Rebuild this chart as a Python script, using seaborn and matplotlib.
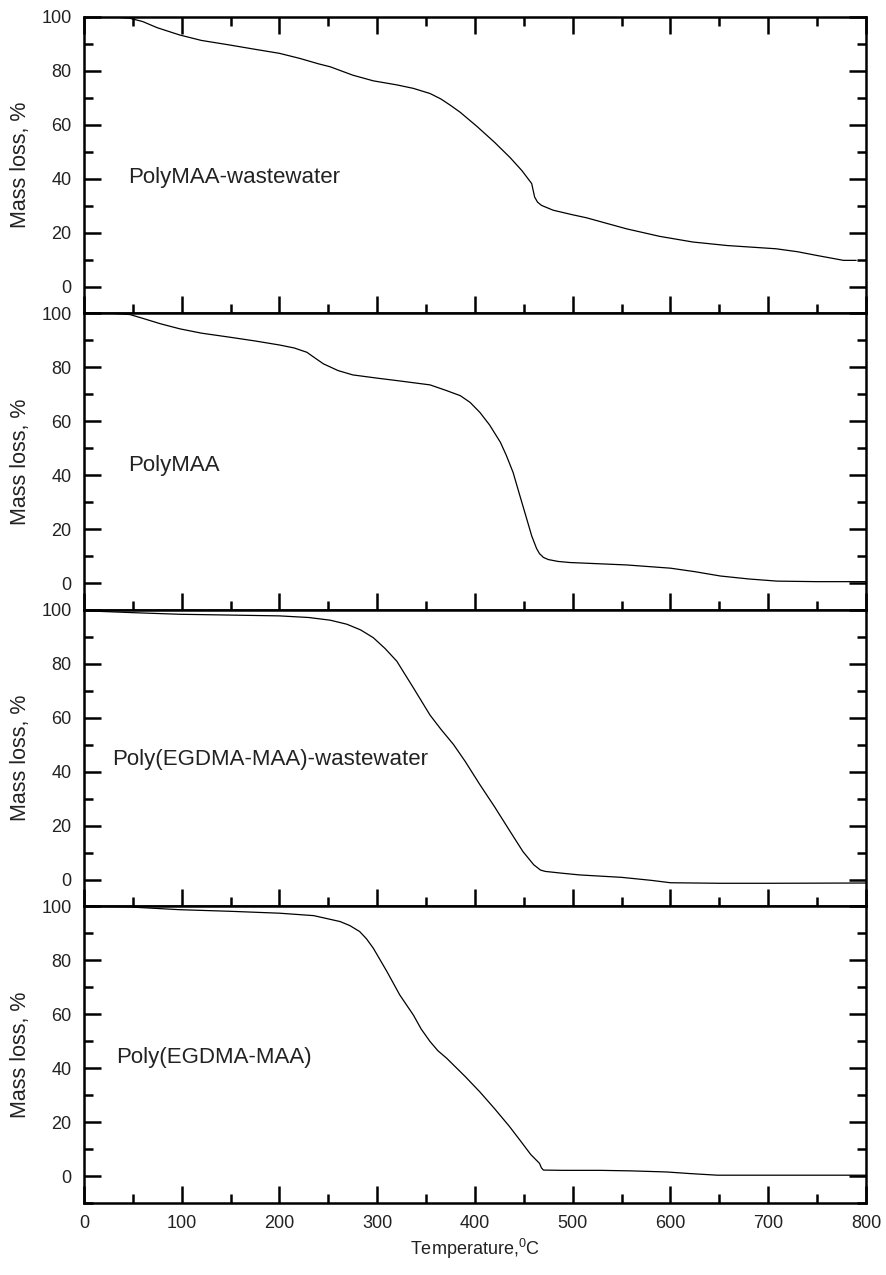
import matplotlib
matplotlib.use("Agg")
import matplotlib.pyplot as plt
from matplotlib.ticker import MultipleLocator
import pandas as pd
import seaborn as sns

# TGA curves: temperature (deg C) and remaining mass (%)
temp_maa_ww = [0, 30, 47, 60, 75, 98, 120, 149, 175, 200, 221, 240, 252, 275, 296,
               320, 337, 354, 365, 375, 385, 402, 420, 436, 448, 453, 458, 461, 464,
               468, 480, 500, 514, 535, 555, 589, 623, 658, 708, 730, 750, 777, 790]
mass_maa_ww = [100, 100, 99.5, 98.3, 96.0, 93.3, 91.3, 89.6, 88.0, 86.5, 84.6, 82.6,
               81.5, 78.4, 76.3, 74.8, 73.5, 71.6, 69.6, 67.2, 64.6, 59.4, 53.5, 47.8,
               43.0, 40.6, 38.2, 33.2, 31.3, 30.1, 28.3, 26.6, 25.5, 23.4, 21.4, 18.6,
               16.5, 15.2, 14.0, 12.9, 11.5, 9.7, 9.7]

temp_maa = [0, 30, 47, 60, 78, 98, 120, 149, 175, 200, 215, 228, 237, 245, 260, 275,
            300, 320, 354, 370, 385, 395, 405, 415, 426, 432, 439, 446, 453, 458, 463,
            466, 470, 475, 485, 497, 555, 600, 625, 651, 680, 709, 750, 800]
mass_maa = [100, 100, 99.6, 98.2, 96.2, 94.3, 92.7, 91.2, 89.8, 88.3, 87.2, 85.6, 83.3,
            81.3, 78.8, 77.2, 76.0, 75.1, 73.5, 71.5, 69.5, 67.0, 63.3, 58.6, 52.2,
            47.4, 41.0, 32.3, 23.7, 17.5, 12.8, 10.9, 9.5, 8.7, 8.0, 7.6, 6.7, 5.5,
            4.2, 2.6, 1.5, 0.7, 0.5, 0.5]

temp_egdma_ww = [0, 50, 98, 150, 200, 230, 252, 269, 283, 296, 308, 320, 337, 354, 365,
                 378, 390, 405, 420, 436, 449, 460, 467, 472, 490, 507, 550, 580, 600,
                 650, 700, 800]
mass_egdma_ww = [99.7, 99.0, 98.4, 98.1, 97.8, 97.2, 96.2, 94.7, 92.6, 89.7, 85.7, 81.0,
                 71.1, 61.0, 55.8, 50.1, 43.8, 35.2, 27.0, 17.8, 10.4, 5.5, 3.5, 3.0,
                 2.3, 1.7, 0.8, -0.3, -1.2, -1.4, -1.4, -1.3]

temp_egdma = [0, 47, 98, 150, 200, 235, 262, 272, 282, 289, 296, 310, 323, 337, 345,
              354, 362, 371, 390, 405, 420, 435, 446, 457, 466, 468, 470, 490, 528,
              560, 596, 620, 648, 700, 800]
mass_egdma = [100, 99.8, 98.8, 98.2, 97.5, 96.6, 94.4, 92.9, 90.7, 88.0, 84.5, 75.8,
              67.2, 59.7, 54.5, 49.9, 46.5, 43.7, 36.9, 31.2, 25.0, 18.5, 13.3, 8.0,
              4.7, 3.0, 2.2, 2.1, 2.1, 1.9, 1.5, 0.9, 0.3, 0.3, 0.3]

sample_names = ["PolyMAA-wastewater", "PolyMAA",
                "Poly(EGDMA-MAA)-wastewater", "Poly(EGDMA-MAA)"]
label_x = [45, 45, 29, 33]
label_y = [38.5, 41.5, 42.5, 42]

x_ticks = [0, 100, 200, 300, 400, 500, 600, 700, 800]
y_ticks = [0, 20, 40, 60, 80, 100]

curves = [(temp_maa_ww, mass_maa_ww), (temp_maa, mass_maa),
          (temp_egdma_ww, mass_egdma_ww), (temp_egdma, mass_egdma)]

sns.set_style("white")
plt.rcParams["font.family"] = ["Liberation Sans", "DejaVu Sans"]
plt.rcParams["mathtext.fontset"] = "custom"
plt.rcParams["mathtext.rm"] = "Liberation Sans"

fig = plt.figure(figsize=(8.86, 12.75), dpi=100)
gs = fig.add_gridspec(4, 1, left=0.0948, right=0.9774, top=0.9867, bottom=0.0565,
                      hspace=0)
axes = [fig.add_subplot(gs[i]) for i in range(4)]

for i, (ax, (t, m), name) in enumerate(zip(axes, curves, sample_names)):
    df = pd.DataFrame({"Temperature": t, "Mass": m})
    sns.lineplot(data=df, x="Temperature", y="Mass", ax=ax, color="black",
                 linewidth=0.9, sort=False, estimator=None)
    ax.set_xlim(0, 800)
    ax.set_ylim(-10, 100)
    ax.set_xticks(x_ticks)
    ax.set_yticks(y_ticks)
    ax.xaxis.set_minor_locator(MultipleLocator(50))
    ax.yaxis.set_minor_locator(MultipleLocator(10))
    for side in ax.spines.values():
        side.set_linewidth(1.8)
        side.set_color("black")
    ax.tick_params(which="both", direction="in", width=1.8, color="black",
                   left=True, right=True, bottom=True, top=(i == 0),
                   labelsize=13, labelcolor="#222222")
    ax.tick_params(which="major", length=12)
    ax.tick_params(which="minor", length=6.7)
    ax.tick_params(axis="y", pad=9)
    ax.tick_params(axis="x", pad=9)
    ax.set_ylabel("Mass loss, %", fontsize=15.5, color="#222222")
    ax.yaxis.set_label_coords(-0.068, 0.5)
    ax.text(label_x[i], label_y[i], name, fontsize=16, color="#222222",
            ha="left", va="baseline")
    if i < 3:
        ax.tick_params(axis="x", labelbottom=False)
        ax.set_xlabel("")
    else:
        ax.set_xlabel(r"Temperature,$\mathregular{^0}$C", fontsize=13,
                      color="#222222", labelpad=3)

fig.savefig("out.png", dpi=100)
